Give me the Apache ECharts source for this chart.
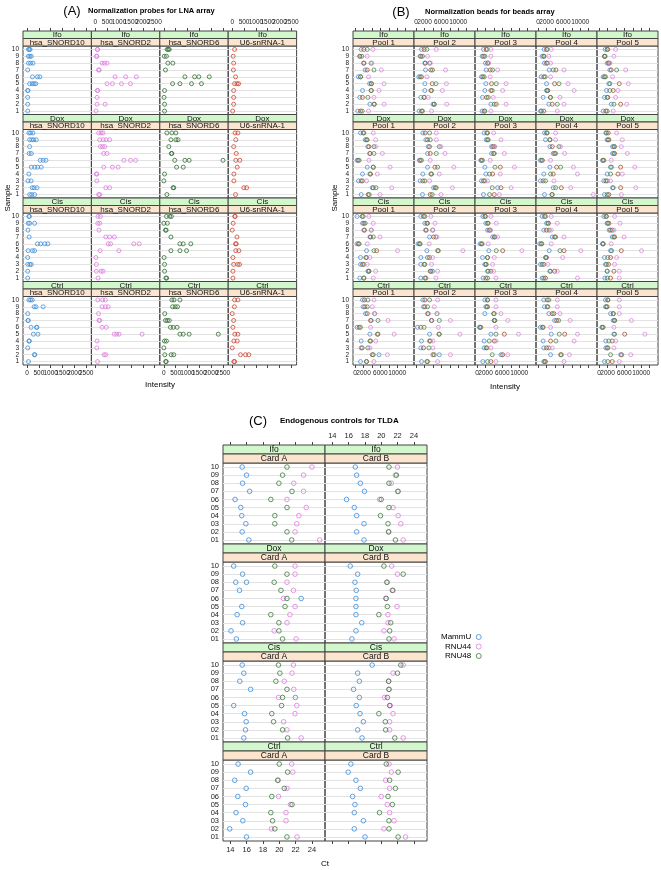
<!DOCTYPE html>
<html>
<head>
<meta charset="utf-8">
<script src="https://cdn.jsdelivr.net/npm/echarts@6/dist/echarts.min.js"></script>
<style>
html, body { margin: 0; padding: 0; background: #fff; }
#main { width: 661px; height: 870px; }
</style>
</head>
<body>
<div id="main"></div>
<script>
// ---- data (every sample list below runs from sample 10 at the top down to sample 1) ----
var groups = ['Ifo', 'Dox', 'Cis', 'Ctrl'];
var samplesAB = ['1', '2', '3', '4', '5', '6', '7', '8', '9', '10'];
var samplesC = ['01', '02', '03', '04', '05', '06', '07', '08', '09', '10'];

// (A) LNA probes, replicate intensities per sample
var lnaProbes = ['hsa_SNORD10', 'hsa_SNORD2', 'hsa_SNORD6', 'U6-snRNA-1'];
var lnaTicks = [0, 500, 1000, 1500, 2000, 2500];
var lnaIfo = [
  [[60,100,130],[60,120,180],[60,150,250],[30],[230,440,540],[110,220,300,370],[30,40],[30],[30],[30]],
  [[80,90],[40,60],[280,380,490],[130,160],[830,1280,1730],[490,720,1100,1480],[80,100],[70],[70,410],[30]],
  [[140,190,230],[20,110],[170,380],[70],[890,1300,1480,1920],[370,680,1170,1590],[30],[10],[30],[30]],
  [[100],[40],[60],[50],[140],[100,200,270],[60],[60],[60],[20]]
];
var lnaDox = [
  [[80,150,250],[110,200,280,390],[110],[90,180],[560,680,800],[180,330,450,600],[80],[40,170],[220,300,420],[110,200,320]],
  [[140,240,320],[180,330,450,600],[210,300,390],[350,490],[1200,1480,1700],[350,720,960],[40,60],[60],[440,600],[140,180]],
  [[130,340,510],[300,510,600],[210],[320,340],[460,890,1070,2500],[540,820],[30],[0],[390,420],[130]],
  [[120,240],[150],[60],[170],[150,320],[210],[70],[70],[490,610],[140]]
];
var lnaCis = [
  [[80,100],[50,110,320],[40],[90],[440,580,750,880],[50,230,320],[30],[30,120,180],[30],[30]],
  [[110,210],[100,180],[150],[440,600,800],[540,640,1620,1850],[200,990],[20],[40],[40,240,320],[110]],
  [[110,250,320],[0,150],[70,100],[300],[680,820,1140],[300,680,960],[10],[30],[30],[90,120]],
  [[110,120],[40],[0],[200],[140,170],[150,280],[30],[60,230,310],[30],[30]]
];
var lnaCtrl = [
  [[80,150,220],[300,380,680],[30],[40,50],[170,400,420],[270,460],[80,100],[30],[310,330],[60]],
  [[100,300,420],[280,420,540],[130],[150,180],[280,460],[800,900,1000,1970],[70],[60],[370,440],[90]],
  [[340,430,680],[370,480,580],[40],[70,150,230],[280,400,560],[680,820,1070,2300],[30,110],[0],[40,310,420],[80,100]],
  [[100,240],[90],[0],[60],[30],[110,240],[70,210],[0],[350,560,700],[70,100]]
];

// (B) beads, four beads per sample
var pools = ['Pool 1', 'Pool 2', 'Pool 3', 'Pool 4', 'Pool 5'];
var beadNames = ['Bead 1', 'Bead 2', 'Bead 3', 'Bead 4'];
var beadTicks = [0, 2000, 4000, 6000, 8000, 10000, 12000];
var beadIfo = [
  [[1440,2080,2880,4240],[1120,1120,1600,2880],[2000,2100,3800,4000],[2400,2880,4480,6240],[800,1280,1300,3200],[3440,3840,3900,6880],[1760,3840,3800,5680],[1120,1760,3040,4480],[3520,4480,4600,6880],[640,1280,1700,3200]],
  [[1280,1920,2560,4800],[960,1120,1520,2720],[2080,2200,3200,3400],[2240,3500,3900,7000],[640,1280,960,2560],[2080,3840,4720,7200],[2080,3520,3680,6240],[1120,1920,1920,2880],[4000,4300,4320,7280],[720,1280,1520,3680]],
  [[1520,2160,2400,3280],[1200,1520,1840,3280],[2000,2480,2640,2700],[2160,3120,3680,4880],[1040,1360,1680,3120],[2080,3440,4560,6880],[1840,3280,3600,6080],[1280,2240,2640,3840],[3280,4560,4080,6880],[1200,1680,1840,3280]],
  [[1440,2000,2160,3120],[960,1360,1400,2560],[1520,2000,2160,2960],[2640,4240,3600,6160],[720,1360,1680,2960],[2000,3920,4960,7120],[2000,2320,2160,8560],[1200,2960,2900,5200],[2560,3360,4560,6160],[560,1360,800,4560]],
  [[1440,1920,2080,3920],[1280,1280,1440,3520],[1920,2240,2400,2600],[2560,2880,4160,6320],[960,1280,1520,3200],[2320,4800,2560,6960],[1760,3360,2560,4480],[1280,1920,2080,3920],[2880,5120,3520,6560],[960,1600,1920,3360]]
];
var beadDox = [
  [[1280,2080,1920,4320],[2400,2880,2720,4880],[3040,3280,4480,4880],[3520,3520,4480,6480],[480,720,960,3280],[2880,4320,4320,8320],[1760,3680,3520,5280],[800,1440,1760,2720],[4080,4320,4960,8720],[1440,3120,3360,5920]],
  [[1600,2160,3200,4800],[2320,2720,3360,4800],[2880,3200,5520,5920],[2720,3360,4800,6880],[800,960,1280,3360],[2720,4480,5120,8960],[1600,3680,3520,5520],[960,1600,2080,3200],[4160,4560,4800,8640],[1520,3360,3840,5920]],
  [[1680,2320,2480,3920],[2160,2480,2640,5680],[3440,3760,4080,4200],[3440,3920,4080,6480],[880,1040,1280,3120],[1840,5520,4240,8880],[2080,3680,2960,5520],[1040,1520,1840,2480],[4880,5680,3600,8080],[1520,4080,2960,5280]],
  [[1520,2160,2000,4160],[1760,2800,2800,4160],[2800,3360,4960,5360],[3600,3920,4160,6320],[560,1040,800,2960],[2800,4400,5360,8400],[1360,3600,2960,9360],[560,1200,1760,3760],[3600,5520,4160,7760],[1520,3280,3360,13120]],
  [[1600,2160,1760,4160],[2160,2320,1920,5520],[3200,3520,3680,5280],[3200,3680,3520,6720],[800,1120,960,2880],[2960,5120,2720,8480],[1920,4480,2720,5520],[1120,1600,1920,2720],[3200,5120,3360,8720],[1280,2320,1920,5280]]
];
var beadCis = [
  [[480,1680,1920,3280],[1760,2080,2400,4320],[2080,2240,3840,3900],[3520,3680,4320,5920],[480,800,960,2880],[2720,5120,4480,10080],[1280,2560,2720,3520],[1280,1760,2080,2880],[3040,3280,3280,4880],[1120,2080,2080,4320]],
  [[1120,1760,2080,3520],[2080,2560,2720,4480],[2240,2400,3920,4000],[3200,4160,4720,4960],[480,800,960,3120],[2560,5280,5120,11120],[1120,3200,2720,3920],[1120,1920,2080,3680],[3920,3360,3520,5120],[1120,2320,2080,4720]],
  [[1360,1840,2000,3280],[2080,2480,2640,4560],[2480,2880,3120,3200],[3680,4080,4240,4880],[720,1040,1200,2640],[2800,6080,4560,10640],[1280,2480,2480,4080],[1840,2080,2160,3680],[2480,3280,2640,3920],[1440,2080,2480,4480]],
  [[960,1520,1760,3120],[2000,2480,2320,4560],[1360,2000,2640,3120],[3360,3920,4160,6160],[400,880,720,3120],[2640,6160,5200,10160],[1760,2000,1840,5840],[560,1360,960,2320],[2960,3920,2800,4560],[960,1760,1360,9360]],
  [[1120,1760,1600,3680],[2080,2320,1920,4960],[2400,2720,3120,3520],[3120,3680,3520,5920],[800,960,960,2880],[2720,5280,2960,10080],[1280,2720,2080,4160],[1520,2240,1760,3680],[1920,3520,1920,4800],[1360,2720,1920,4800]]
];
var beadCtrl = [
  [[1760,2240,3040,4480],[1920,2320,2880,4080],[2480,2880,4640,4700],[3840,3680,5440,7840],[480,960,1280,3680],[3520,5440,5280,9280],[1440,3680,3520,4880],[1440,1680,3040,3520],[5680,4080,4320,7680],[1280,2720,2700,4480]],
  [[1600,2080,3200,5120],[1760,2080,2720,4320],[2720,2880,4960,5000],[3680,3680,5520,8160],[320,1120,1900,5280],[3200,5520,5440,10400],[1280,3360,3200,4000],[1120,1760,3040,4000],[5520,4000,4320,8160],[1280,2560,2720,5120]],
  [[1840,2480,2480,4480],[2080,2480,2320,4480],[1840,3920,4080,5680],[4080,4080,4240,7280],[560,880,720,4480],[3280,6480,4480,9840],[1680,4080,2880,4480],[1680,2320,2160,3280],[5680,6080,3600,7280],[1360,3280,2480,4480]],
  [[1360,2160,2560,4560],[1520,2160,2320,4560],[2560,3360,3760,5200],[3920,4400,4880,7600],[560,1200,1040,2960],[3120,6320,5040,9360],[1200,2960,4240,8560],[1360,2000,2560,3360],[2960,5360,5520,7440],[1360,1760,1520,6160]],
  [[1520,2080,2080,4800],[1520,1920,1760,4800],[2720,3360,3360,4800],[3360,3680,3680,7680],[640,960,800,3520],[3520,6080,3680,10880],[1600,3120,2320,3920],[1600,2080,1920,3520],[5120,5360,2720,7520],[1280,3120,2080,4800]]
];

// (C) TLDA endogenous controls, Ct per sample: [MammU, RNU44, RNU48]
var cards = ['Card A', 'Card B'];
var tldaControls = ['MammU', 'RNU44', 'RNU48'];
var ctTicks = [14, 16, 18, 20, 22, 24];
var tldaIfo = [
  [[15.45,24.0,20.94],[15.98,22.97,20.4],[15.5,21.77,19.95],[16.36,22.97,21.56],[14.58,20.94,18.96],[15.28,23.3,20.94],[15.4,22.39,19.45],[15.9,22.14,19.45],[15.45,21.93,20.94],[16.27,24.95,21.52]],
  [[16.81,21.98,20.94],[16.98,21.73,21.85],[17.43,21.23,20.94],[17.93,22.0,22.06],[15.74,19.79,19.99],[16.69,21.44,20.94],[16.98,22.06,19.9],[17.88,22.39,20.82],[16.98,20.9,20.9],[17.88,22.68,21.73]]
];
var tldaDox = [
  [[14.41,21.93,19.45],[15.5,21.93,20.94],[[14.66,15.98],20.94,19.37],[15.12,21.73,20.2],[22.68,20.5,20.94],[15.4,21.93,20.7],[14.83,21.3,18.96],[15.5,20.94,19.95],[14.08,19.37,19.95],[14.74,22.06,20.4]],
  [[16.19,21.27,20.32],[17.1,21.98,22.68],[16.77,20.7,20.69],[16.93,21.44,21.36],[16.89,20.53,20.61],[16.89,21.93,20.74],[16.89,20.82,19.7],[17.6,20.82,21.15],[16.89,20.32,21.02],[16.4,21.56,20.94]]
];
var tldaCis = [
  [[15.45,21.73,19.9],[15.65,21.56,20.07],[15.16,20.61,19.58],[16.48,21.77,20.94],[21.97,19.9,20.4],[14.41,22.14,20.28],[15.74,21.93,19.08],[15.94,20.53,19.29],[15.86,20.94,20.4],[15.65,22.68,21.02]],
  [[18.88,22.68,22.39],[17.1,21.44,21.98],[17.31,20.9,20.9],[16.6,20.94,20.94],[17.31,20.4,20.74],[16.93,21.1,21.02],[17.39,21.44,19.7],[17.8,21.02,20.49],[17.1,21.02,20.53],[17.64,22.68,21.65]]
];
var tldaCtrl = [
  [[14.95,21.52,19.99],[16.48,21.65,21.02],[14.54,19.87,19.8],[15.94,20.94,20.61],[14.91,19.9,19.08],[15.86,21.36,21.56],[14.7,20.82,18.96],[15.53,20.82,19.17],[13.92,19.04,19.45],[15.98,22.18,20.94]],
  [[16.27,20.94,20.61],[15.94,21.23,22.06],[16.89,20.53,21.02],[17.43,21.02,21.73],[16.48,19.99,20.82],[16.77,20.74,21.36],[16.69,21.02,19.78],[17.8,21.56,20.94],[16.69,20.32,20.94],[18.0,22.97,22.06]]
];

// tick labels; split in two sets so that neighbouring labels may touch like in the original
var lnaLabelSets = [[0, 1000, 2000], [500, 1500, 2500]];
var beadLabelSets = [[0, 6000], [2000, 10000]];
var ctLabelSets = [ctTicks];

// ---- build ----
var FONT = 'Liberation Sans, Arial, sans-serif';
var lnaColors = ['#3f8fd8', '#e07be0', '#2e6e2e', '#d04430'];
var beadColors = ['#4a90d9', '#a5502f', '#4f844f', '#de88de'];
var tldaColors = ['#3a8ad8', '#e07be0', '#3a7a3a'];
var STRIP_TOP = '#d2f7cc', STRIP_BOT = '#fbe5cf', BORDER = '#444';

var grids = [], xAxes = [], yAxes = [], series = [], graphics = [];

function plain(v) { return String(v); }

function lattice(cfg) {
  cfg.rows.forEach(function (rowName, r) {
    cfg.cols.forEach(function (colName, c) {
      var gi = grids.length;
      var x0 = cfg.left + c * cfg.colW;
      var y0 = cfg.top + r * cfg.rowH;
      var isTop = r === 0, isBot = r === cfg.rows.length - 1;
      grids.push({
        left: x0, top: y0 + 2 * cfg.stripH, width: cfg.colW, height: cfg.rowH - 2 * cfg.stripH,
        show: true, borderColor: BORDER, borderWidth: 1
      });
      var showLab = (isTop && cfg.topLab.indexOf(c) >= 0) || (isBot && cfg.botLab.indexOf(c) >= 0);
      var pos = isTop ? 'top' : 'bottom', off = isTop ? 2 * cfg.stripH : 0;
      var xi = xAxes.length;
      xAxes.push({
        gridIndex: gi, type: 'value', min: cfg.xmin, max: cfg.xmax, position: pos, offset: off,
        axisLine: { show: false }, splitLine: { show: false },
        axisTick: { show: isTop || isBot, customValues: cfg.ticks, length: 3, lineStyle: { color: BORDER } },
        axisLabel: { show: false }
      });
      if (showLab) {
        cfg.labelSets.forEach(function (set) {
          xAxes.push({
            gridIndex: gi, type: 'value', min: cfg.xmin, max: cfg.xmax, position: pos, offset: off,
            axisLine: { show: false }, splitLine: { show: false }, axisTick: { show: false },
            axisLabel: {
              show: true, customValues: set, formatter: plain, hideOverlap: false,
              fontSize: cfg.tickFont, fontFamily: FONT, color: '#222', margin: 5
            }
          });
        });
      }
      yAxes.push({
        gridIndex: gi, type: 'category', data: cfg.cats, boundaryGap: true,
        axisLine: { show: false }, axisTick: { show: false }, splitLine: { show: false },
        axisLabel: { show: c === 0, interval: 0, fontSize: cfg.tickFont, fontFamily: FONT, color: '#222', margin: 4 }
      });
      cfg.series(r, c).forEach(function (s, k) {
        var item = {
          type: 'scatter', name: s.name, xAxisIndex: xi, yAxisIndex: gi,
          symbol: 'circle', symbolSize: cfg.symSize, silent: true,
          itemStyle: { color: 'rgba(0,0,0,0)', borderColor: s.color, borderWidth: 1 },
          data: s.data
        };
        if (k === 0) {
          // reference lines through every sample
          item.markLine = {
            silent: true, symbol: 'none', label: { show: false }, animation: false, z: 1,
            lineStyle: { color: '#e2e2e2', type: 'solid', width: 1 },
            data: cfg.cats.map(function (cat, i) { return { yAxis: i }; })
          };
        }
        series.push(item);
      });
      // strips
      [[rowName, STRIP_TOP, 0], [colName, STRIP_BOT, 1]].forEach(function (st) {
        graphics.push({
          type: 'rect', silent: true, z: 5,
          shape: { x: x0, y: y0 + st[2] * cfg.stripH, width: cfg.colW, height: cfg.stripH },
          style: { fill: st[1], stroke: BORDER, lineWidth: 1 }
        });
        graphics.push({
          type: 'text', silent: true, z: 6,
          x: x0 + cfg.colW / 2, y: y0 + st[2] * cfg.stripH + cfg.stripH / 2 + 0.5,
          style: { text: st[0], fill: '#111', font: cfg.stripFont + 'px ' + FONT, align: 'center', verticalAlign: 'middle' }
        });
      });
    });
  });
}

// rows in the data lists run top-down (10..1); category index counts from the bottom
function rowIndex(i) { return 9 - i; }

var lnaData = [lnaIfo, lnaDox, lnaCis, lnaCtrl];
lattice({
  rows: groups, cols: lnaProbes, left: 23, colW: 68.4, top: 31, rowH: 83.5, stripH: 7.5,
  xmin: -170, xmax: 2720, ticks: lnaTicks, labelSets: lnaLabelSets, topLab: [1, 3], botLab: [0, 2],
  cats: samplesAB, tickFont: 6.5, stripFont: 8, symSize: 4,
  series: function (r, c) {
    var pts = [];
    lnaData[r][c].forEach(function (vals, i) {
      vals.forEach(function (v) { pts.push([v, rowIndex(i)]); });
    });
    return [{ name: lnaProbes[c], color: lnaColors[c], data: pts }];
  }
});

var beadData = [beadIfo, beadDox, beadCis, beadCtrl];
lattice({
  rows: groups, cols: pools, left: 353, colW: 61, top: 31, rowH: 83.5, stripH: 7.5,
  xmin: -500, xmax: 14000, ticks: beadTicks, labelSets: beadLabelSets, topLab: [1, 3], botLab: [0, 2, 4],
  cats: samplesAB, tickFont: 6.5, stripFont: 8, symSize: 4,
  series: function (r, c) {
    return beadNames.map(function (b, k) {
      return {
        name: b, color: beadColors[k],
        data: beadData[r][c].map(function (vals, i) { return [vals[k], rowIndex(i)]; })
      };
    });
  }
});

var tldaData = [tldaIfo, tldaDox, tldaCis, tldaCtrl];
lattice({
  rows: groups, cols: cards, left: 223, colW: 102, top: 445, rowH: 99, stripH: 9,
  xmin: 13.1, xmax: 25.6, ticks: ctTicks, labelSets: ctLabelSets, topLab: [1], botLab: [0],
  cats: samplesC, tickFont: 7.5, stripFont: 8.5, symSize: 4.6,
  series: function (r, c) {
    return tldaControls.map(function (n, k) {
      var pts = [];
      tldaData[r][c].forEach(function (row, i) {
        [].concat(row[k]).forEach(function (v) { pts.push([v, rowIndex(i)]); });
      });
      return { name: n, color: tldaColors[k], data: pts };
    });
  }
});

function label(text, x, y, size, opts) {
  opts = opts || {};
  graphics.push({
    type: 'text', silent: true, x: x, y: y, rotation: opts.rot || 0,
    style: {
      text: text, fill: '#000', align: opts.align || 'center', verticalAlign: 'middle',
      font: (opts.bold ? 'bold ' : '') + size + 'px ' + FONT
    }
  });
}
label('(A)', 72, 11, 13);
label('Normalization probes for LNA array', 88, 11, 7.5, { bold: true, align: 'left' });
label('(B)', 401, 12, 13);
label('Normalization beads for beads array', 425, 12, 7.5, { bold: true, align: 'left' });
label('(C)', 258, 421, 13);
label('Endogenous controls for TLDA', 280, 421, 8, { bold: true, align: 'left' });
label('Sample', 8, 198, 8, { rot: Math.PI / 2 });
label('Sample', 335, 198, 8, { rot: Math.PI / 2 });
label('Intensity', 160, 385, 8);
label('Intensity', 505, 387, 8);
label('Ct', 325, 864, 8);

var chart = echarts.init(document.getElementById('main'));
chart.setOption({
  animation: false,
  textStyle: { fontFamily: FONT },
  legend: {
    orient: 'vertical', left: 441, top: 633, align: 'right',
    itemWidth: 5, itemHeight: 5, itemGap: 1.5, padding: 0, selectedMode: false,
    icon: 'circle',
    textStyle: { fontSize: 8, fontFamily: FONT, color: '#000', width: 34, padding: [0, 0, 0, 0] },
    data: tldaControls.map(function (n, k) {
      return { name: n, itemStyle: { color: 'rgba(0,0,0,0)', borderColor: tldaColors[k], borderWidth: 1 } };
    })
  },
  grid: grids,
  xAxis: xAxes,
  yAxis: yAxes,
  series: series,
  graphic: graphics
});
</script>
</body>
</html>
